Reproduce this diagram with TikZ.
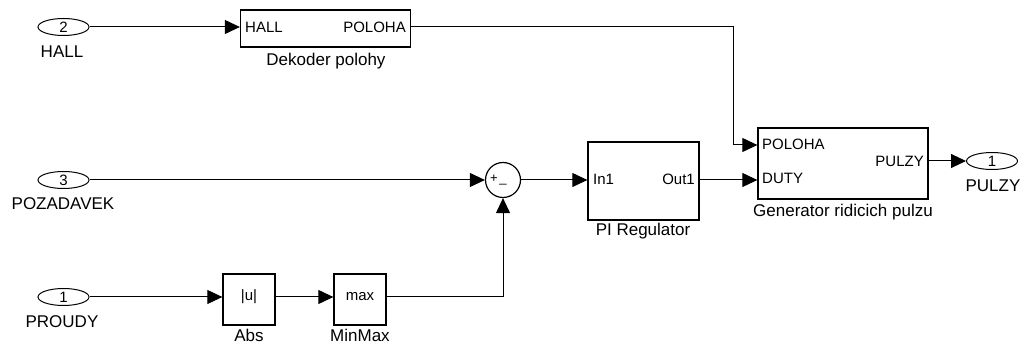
\documentclass[tikz,border=0pt]{standalone}
\usepackage{fontspec}
\setmainfont{Liberation Sans}
\usetikzlibrary{shapes.geometric,arrows.meta}
\begin{document}
\begin{tikzpicture}[x=1pt,y=-1pt,
  blk/.style={draw,line width=1.3pt,inner sep=0,rectangle},
  inport/.style={draw,ellipse,line width=1pt,minimum width=51pt,minimum height=17pt,inner sep=0,font=\fontsize{15}{15}\selectfont},
  nm/.style={font=\fontsize{17}{17}\selectfont,inner sep=0},
  pl/.style={font=\fontsize{15}{15}\selectfont,inner sep=0},
  sig/.style={line width=1pt,-{Triangle[length=15pt,width=14pt]}},
]
\useasboundingbox (0,0) rectangle (1021,344);

% inports
\node[inport] (hall) at (63.5,27) {2};
\node[nm] (hallL) at (62,52) {HALL};
\node[inport] (poz) at (63.5,180) {3};
\node[nm] (pozL) at (63,204) {POZADAVEK};
\node[inport] (proudy) at (63.5,297) {1};
\node[nm] (proudyL) at (62,322) {PROUDY};

% Dekoder polohy
\node[blk,minimum width=170pt,minimum height=37pt] (dek) at (325.5,28.5) {};
\node[pl,anchor=west] (dekIn) at (245,27) {HALL};
\node[pl,anchor=east] (dekOut) at (406,27) {POLOHA};
\node[nm] (dekL) at (326,61) {Dekoder polohy};

% Sum
\node[draw,circle,line width=1.2pt,minimum size=35pt,inner sep=0] (sum) at (503,180) {};
\node[font=\fontsize{13}{13}\selectfont,inner sep=0] (plus) at (494,179) {+};
\node[font=\fontsize{13}{13}\selectfont,inner sep=0] (minus) at (503,184) {\_};

% PI regulator
\node[blk,minimum width=111pt,minimum height=78pt] (pi) at (643.5,181) {};
\node[pl,anchor=west] (piIn) at (593,179) {In1};
\node[pl,anchor=east] (piOut) at (695,179) {Out1};
\node[nm] (piL) at (643,231) {PI Regulator};

% Generator
\node[blk,minimum width=170pt,minimum height=71pt] (gen) at (843,163.5) {};
\node[pl,anchor=west] (genP) at (762,144) {POLOHA};
\node[pl,anchor=west] (genD) at (762,178) {DUTY};
\node[pl,anchor=east] (genO) at (924,161) {PULZY};
\node[nm] (genL) at (843,212) {Generator ridicich pulzu};

% outport
\node[inport] (pulzy) at (992,161) {1};
\node[nm] (pulzyL) at (993,186) {PULZY};

% Abs, MinMax
\node[blk,minimum width=52pt,minimum height=51pt] (abs) at (249,299.5) {};
\node[pl] (absT) at (249,297) {|u|};
\node[nm] (absL) at (249,335.5) {Abs};
\node[blk,minimum width=52pt,minimum height=51pt] (mm) at (360,299.5) {};
\node[pl] (mmT) at (360,297) {max};
\node[nm] (mmL) at (360,335.5) {MinMax};

\coordinate (bend) at (733,145);
% connectors
\draw[sig] (hall.east) -- (dek.west |- hall.east);
\draw[sig] (dek.east |- hall.east) -| (bend) -- (gen.west |- bend);
\draw[sig] (poz.east) -- (sum.west);
\draw[sig] (sum.east) -- (pi.west |- sum.east);
\draw[sig] (pi.east |- sum.east) -- (gen.west |- sum.east);
\draw[sig] (gen.east |- pulzy.west) -- (pulzy.west);
\draw[sig] (proudy.east) -- (abs.west |- proudy.east);
\draw[sig] (abs.east |- proudy.east) -- (mm.west |- proudy.east);
\draw[sig] (mm.east |- proudy.east) -| (sum.south);
\end{tikzpicture}
\end{document}
